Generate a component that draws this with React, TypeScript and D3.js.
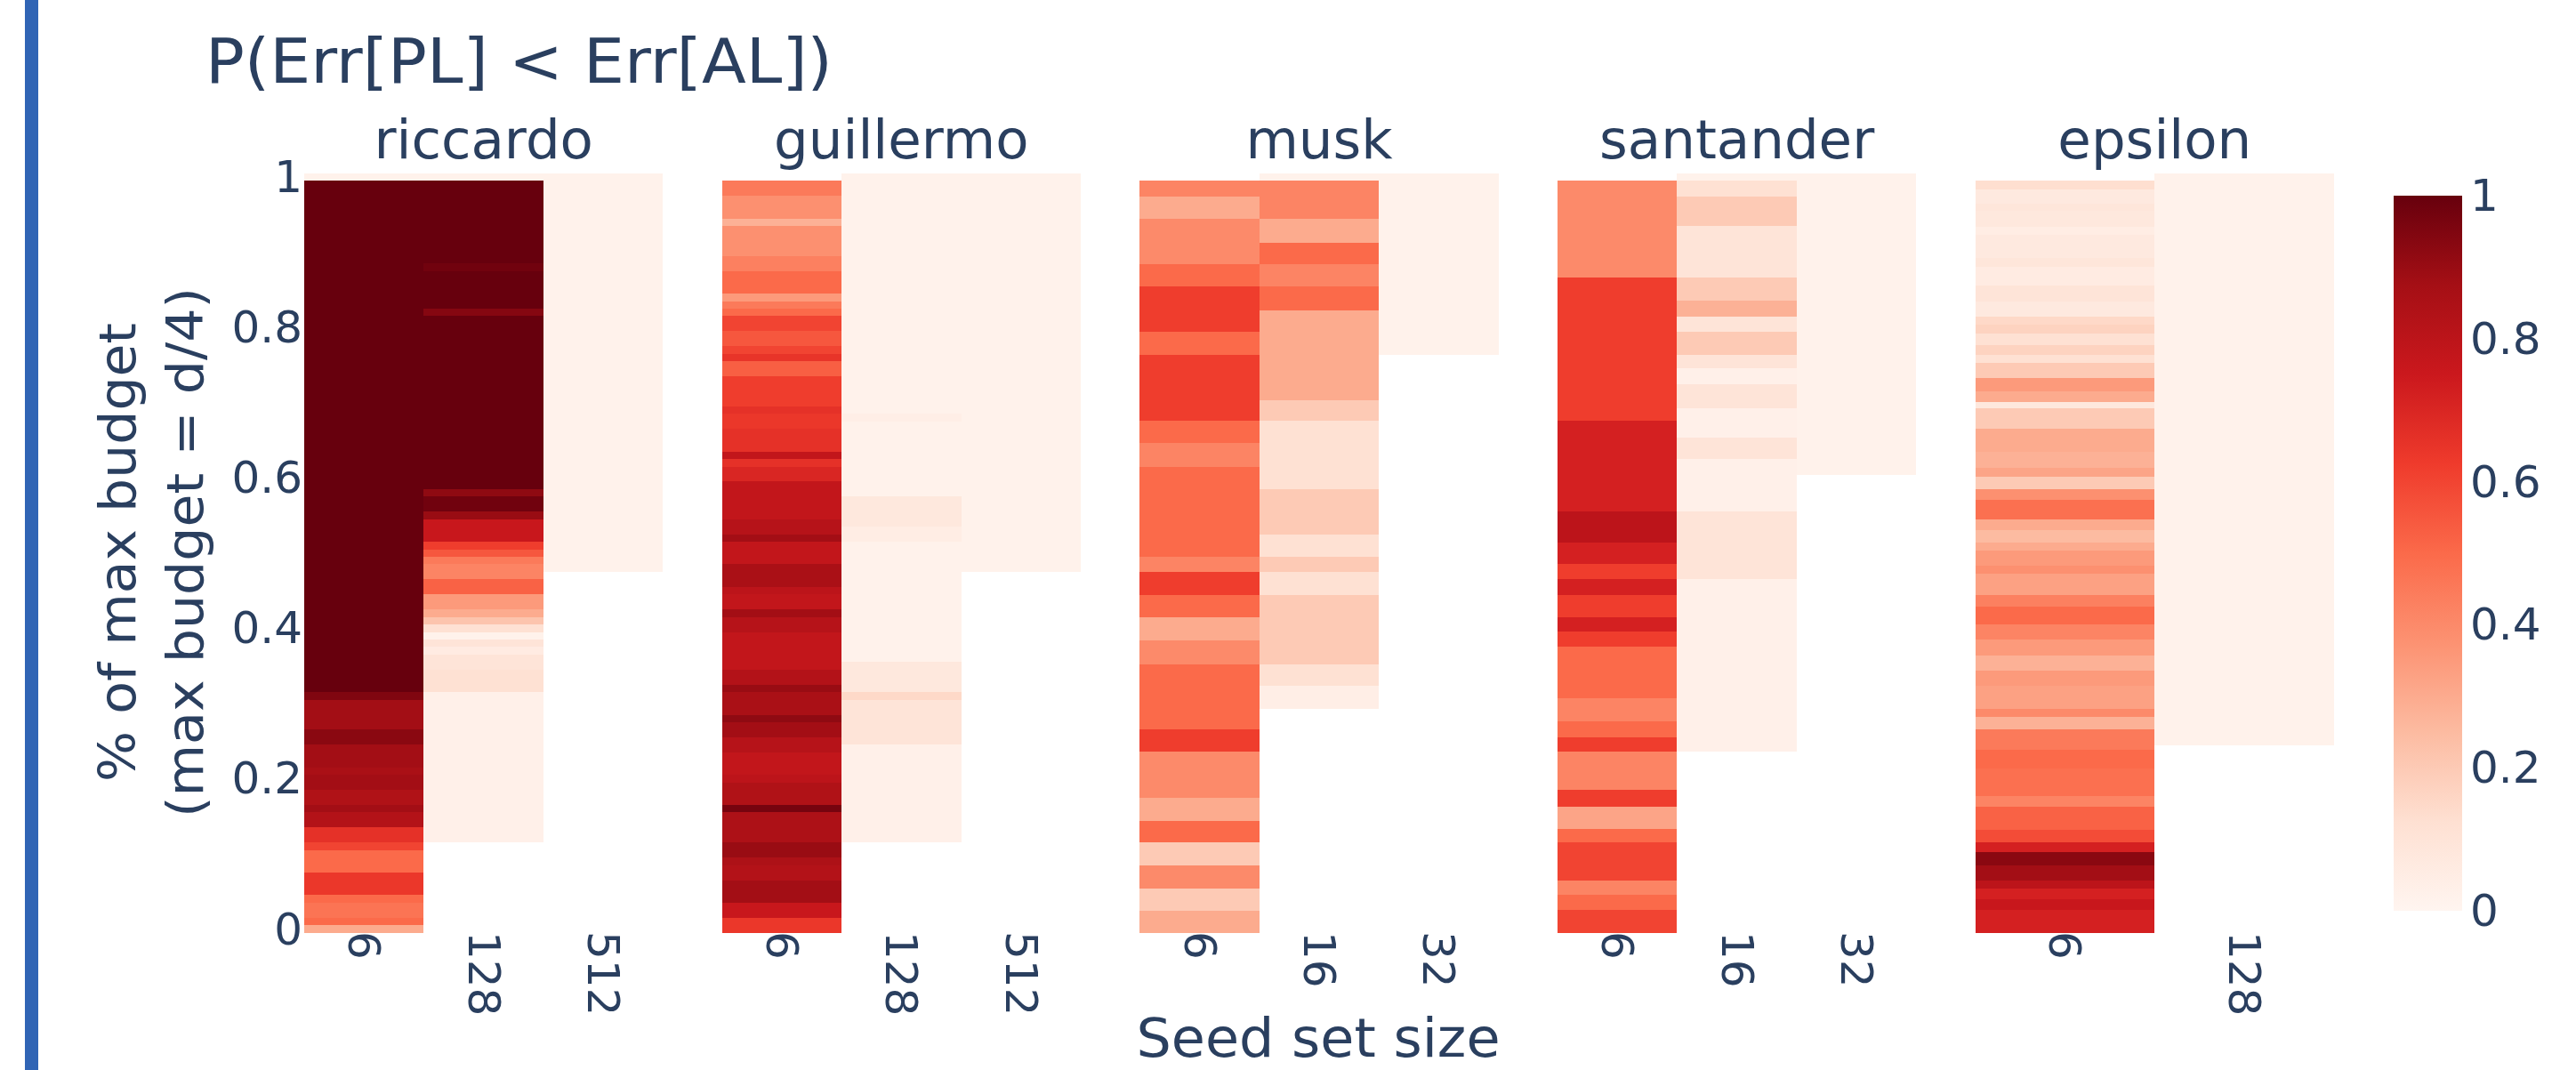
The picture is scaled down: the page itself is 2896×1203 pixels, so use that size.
import React from "react";
import * as d3 from "d3";

// ---------- data ----------
const datasetNames = ["riccardo", "guillermo", "musk", "santander", "epsilon"];

const riccardoSeeds = ["6", "128", "512"];
const guillermoSeeds = ["6", "128", "512"];
const muskSeeds = ["6", "16", "32"];
const santanderSeeds = ["6", "16", "32"];
const epsilonSeeds = ["6", "128"];

// each column: [budget fraction at top of band, P(Err[PL] < Err[AL])], last entry = bottom edge
type Band = [number, number | null];

const riccardo6: Band[] = [
  [1.005, 0.02], [0.995, 1.0], [0.315, 0.95], [0.305, 0.88], [0.265, 0.93], [0.245, 0.88],
  [0.215, 0.86], [0.205, 0.88], [0.185, 0.84], [0.165, 0.88], [0.155, 0.83], [0.135, 0.66],
  [0.115, 0.6], [0.105, 0.5], [0.075, 0.64], [0.045, 0.5], [0.035, 0.47], [0.015, 0.5],
  [0.005, 0.3], [-0.005, null],
];
const riccardo128: Band[] = [
  [1.005, 0.02], [0.995, 1.0], [0.885, 0.98], [0.875, 1.0], [0.825, 0.94], [0.815, 1.0],
  [0.585, 0.92], [0.575, 0.98], [0.555, 0.9], [0.545, 0.76], [0.515, 0.62], [0.505, 0.55],
  [0.495, 0.45], [0.485, 0.42], [0.465, 0.52], [0.445, 0.35], [0.425, 0.3], [0.415, 0.22],
  [0.405, 0.12], [0.395, 0.02], [0.385, 0.1], [0.375, 0.06], [0.365, 0.1], [0.345, 0.12],
  [0.315, 0.03], [0.115, null],
];
const riccardo512: Band[] = [[1.005, 0.02], [0.475, null]];

const guillermo6: Band[] = [
  [0.995, 0.45], [0.975, 0.38], [0.945, 0.28], [0.935, 0.38], [0.895, 0.43], [0.875, 0.5],
  [0.845, 0.35], [0.835, 0.45], [0.825, 0.5], [0.815, 0.6], [0.795, 0.55], [0.775, 0.6],
  [0.765, 0.65], [0.755, 0.53], [0.735, 0.62], [0.695, 0.66], [0.685, 0.64], [0.665, 0.66],
  [0.635, 0.78], [0.625, 0.66], [0.615, 0.7], [0.595, 0.78], [0.545, 0.82], [0.525, 0.88],
  [0.515, 0.78], [0.485, 0.86], [0.455, 0.8], [0.445, 0.78], [0.425, 0.88], [0.415, 0.82],
  [0.395, 0.78], [0.345, 0.83], [0.325, 0.9], [0.315, 0.86], [0.285, 0.92], [0.275, 0.88],
  [0.255, 0.82], [0.235, 0.78], [0.205, 0.8], [0.195, 0.84], [0.165, 0.97], [0.155, 0.85],
  [0.115, 0.9], [0.095, 0.85], [0.085, 0.83], [0.065, 0.88], [0.035, 0.76], [0.015, 0.64],
  [-0.005, null],
];
const guillermo128: Band[] = [
  [1.005, 0.02], [0.685, 0.04], [0.675, 0.02], [0.575, 0.08], [0.535, 0.05], [0.515, 0.02],
  [0.355, 0.08], [0.315, 0.15], [0.305, 0.1], [0.245, 0.03], [0.115, null],
];
const guillermo512: Band[] = [[1.005, 0.02], [0.475, null]];

const musk6: Band[] = [
  [0.995, 0.42], [0.974, 0.3], [0.944, 0.4], [0.884, 0.5], [0.854, 0.62], [0.794, 0.5],
  [0.764, 0.62], [0.676, 0.5], [0.646, 0.42], [0.615, 0.5], [0.495, 0.42], [0.475, 0.62],
  [0.444, 0.5], [0.414, 0.3], [0.384, 0.4], [0.352, 0.5], [0.266, 0.62], [0.236, 0.4],
  [0.175, 0.3], [0.144, 0.5], [0.115, 0.2], [0.085, 0.4], [0.054, 0.2], [0.024, 0.3],
  [-0.005, null],
];
const musk16: Band[] = [
  [1.005, 0.02], [0.995, 0.42], [0.944, 0.3], [0.913, 0.5], [0.884, 0.42], [0.854, 0.5],
  [0.823, 0.3], [0.703, 0.2], [0.676, 0.12], [0.585, 0.2], [0.524, 0.12], [0.495, 0.2],
  [0.475, 0.12], [0.444, 0.2], [0.352, 0.12], [0.323, 0.04], [0.293, null],
];
const musk32: Band[] = [[1.005, 0.02], [0.764, null]];

const santander6: Band[] = [
  [0.995, 0.4], [0.866, 0.62], [0.676, 0.72], [0.555, 0.8], [0.514, 0.72], [0.485, 0.62],
  [0.465, 0.72], [0.444, 0.62], [0.414, 0.72], [0.396, 0.62], [0.375, 0.5], [0.307, 0.42],
  [0.276, 0.5], [0.255, 0.62], [0.236, 0.42], [0.185, 0.62], [0.163, 0.32], [0.133, 0.5],
  [0.115, 0.6], [0.064, 0.42], [0.045, 0.5], [0.025, 0.6], [-0.005, null],
];
const santander16: Band[] = [
  [1.005, 0.02], [0.995, 0.12], [0.974, 0.2], [0.935, 0.1], [0.866, 0.2], [0.836, 0.28],
  [0.814, 0.1], [0.794, 0.2], [0.764, 0.1], [0.746, 0.03], [0.724, 0.1], [0.693, 0.03],
  [0.654, 0.1], [0.625, 0.03], [0.555, 0.1], [0.465, 0.03], [0.236, null],
];
const santander32: Band[] = [[1.005, 0.02], [0.604, null]];

const epsilon6: Band[] = [
  [0.995, 0.13], [0.983, 0.07], [0.965, 0.09], [0.955, 0.08], [0.934, 0.05], [0.923, 0.07],
  [0.892, 0.09], [0.88, 0.06], [0.856, 0.1], [0.835, 0.07], [0.814, 0.15], [0.804, 0.17],
  [0.792, 0.12], [0.776, 0.17], [0.764, 0.12], [0.753, 0.2], [0.733, 0.35], [0.715, 0.3],
  [0.701, 0.08], [0.693, 0.2], [0.665, 0.3], [0.634, 0.28], [0.613, 0.32], [0.602, 0.2],
  [0.585, 0.38], [0.571, 0.48], [0.545, 0.3], [0.531, 0.25], [0.514, 0.3], [0.503, 0.35],
  [0.483, 0.38], [0.473, 0.33], [0.444, 0.43], [0.429, 0.5], [0.405, 0.42], [0.385, 0.35],
  [0.364, 0.28], [0.344, 0.35], [0.323, 0.33], [0.293, 0.4], [0.282, 0.28], [0.265, 0.45],
  [0.238, 0.5], [0.214, 0.48], [0.177, 0.42], [0.163, 0.52], [0.132, 0.58], [0.115, 0.72],
  [0.102, 0.93], [0.085, 0.88], [0.064, 0.8], [0.054, 0.72], [0.04, 0.76], [0.026, 0.72],
  [-0.005, null],
];
const epsilon128: Band[] = [[1.005, 0.02], [0.244, null]];

const seedSizes = [riccardoSeeds, guillermoSeeds, muskSeeds, santanderSeeds, epsilonSeeds];
const panelColumns = [
  [riccardo6, riccardo128, riccardo512],
  [guillermo6, guillermo128, guillermo512],
  [musk6, musk16, musk32],
  [santander6, santander16, santander32],
  [epsilon6, epsilon128],
];

const yTicks = [0, 0.2, 0.4, 0.6, 0.8, 1];
const colorbarTicks = [0, 0.2, 0.4, 0.6, 0.8, 1];
const redsStops: [number, string][] = [
  [0, "rgb(255,245,240)"], [0.125, "rgb(254,224,210)"], [0.25, "rgb(252,187,161)"],
  [0.375, "rgb(252,146,114)"], [0.5, "rgb(251,106,74)"], [0.625, "rgb(239,59,44)"],
  [0.75, "rgb(203,24,29)"], [0.875, "rgb(165,15,21)"], [1, "rgb(103,0,13)"],
];

const titleText = "P(Err[PL] < Err[AL])";
const yTitle1 = "% of max budget";
const yTitle2 = "(max budget = d/4)";
const xTitle = "Seed set size";

// ---------- layout ----------
const W = 2896;
const H = 1203;
const FONT = "Verdana, 'DejaVu Sans', sans-serif";
const TEXT = "#2a3f5f";

const fmt = (v: number) => (v === 0 ? "0" : v === 1 ? "1" : d3.format(".1f")(v));

export default function App() {
  const y = d3.scaleLinear().domain([0, 1]).range([1044.5, 199]);
  const panelX = d3.scaleBand<string>().domain(datasetNames).range([342, 2624]).paddingInner(0.1412);
  const color = d3
    .scaleLinear<string>()
    .domain(redsStops.map((d) => d[0]))
    .range(redsStops.map((d) => d[1]))
    .interpolate(d3.interpolateRgb)
    .clamp(true);
  const cb = d3.scaleLinear().domain([0, 1]).range([1024, 220]);

  return (
    <svg
      width={W}
      height={H}
      style={{ position: "absolute", left: 0, top: 0, background: "#fff" }}
      fontFamily={FONT}
    >
      <rect x={0} y={0} width={W} height={H} fill="#fff" />
      <rect x={28} y={0} width={15} height={H} fill="#3065b5" />

      <text x={231} y={93} fontSize={69} fill={TEXT} textLength={705} lengthAdjust="spacingAndGlyphs">
        {titleText}
      </text>

      {datasetNames.map((name, i) => {
        const left = panelX(name)!;
        const bw = panelX.bandwidth();
        const x = d3.scaleBand<string>().domain(seedSizes[i]).range([left, left + bw]);
        return (
          <g key={name}>
            {panelColumns[i].map((bands, j) => {
              const seed = seedSizes[i][j];
              return (
                <g key={seed}>
                  {bands.slice(0, -1).map((b, k) => {
                    if (b[1] === null) return null;
                    const top = y(b[0]);
                    const bottom = y(bands[k + 1][0]);
                    return (
                      <rect
                        key={k}
                        x={x(seed)!}
                        y={top}
                        width={x.bandwidth()}
                        height={bottom - top}
                        fill={color(b[1])}
                        shapeRendering="crispEdges"
                      />
                    );
                  })}
                  <text
                    transform={`translate(${x(seed)! + x.bandwidth() / 2},1047) rotate(90)`}
                    fontSize={50}
                    fill={TEXT}
                    textAnchor="start"
                    dominantBaseline="central"
                  >
                    {seed}
                  </text>
                </g>
              );
            })}
            <text x={left + bw / 2} y={178} fontSize={61} fill={TEXT} textAnchor="middle">
              {name}
            </text>
          </g>
        );
      })}

      {yTicks.map((t) => (
        <text key={t} x={340} y={y(t)} fontSize={50} fill={TEXT} textAnchor="end" dominantBaseline="central">
          {fmt(t)}
        </text>
      ))}

      <text
        transform="translate(152,621) rotate(-90)"
        fontSize={57}
        fill={TEXT}
        textAnchor="middle"
        textLength={516}
        lengthAdjust="spacingAndGlyphs"
      >
        {yTitle1}
      </text>
      <text
        transform="translate(228,621) rotate(-90)"
        fontSize={57}
        fill={TEXT}
        textAnchor="middle"
        textLength={596}
        lengthAdjust="spacingAndGlyphs"
      >
        {yTitle2}
      </text>

      <text x={1482} y={1188} fontSize={61} fill={TEXT} textAnchor="middle" textLength={409} lengthAdjust="spacingAndGlyphs">
        {xTitle}
      </text>

      <defs>
        <linearGradient id="cbGrad" x1="0" y1="1" x2="0" y2="0">
          {redsStops.map(([o, c]) => (
            <stop key={o} offset={o} stopColor={c} />
          ))}
        </linearGradient>
      </defs>
      <rect x={2691} y={cb(1)} width={77} height={cb(0) - cb(1)} fill="url(#cbGrad)" />
      {colorbarTicks.map((t) => (
        <text key={t} x={2777} y={cb(t)} fontSize={50} fill={TEXT} dominantBaseline="central">
          {fmt(t)}
        </text>
      ))}
    </svg>
  );
}
